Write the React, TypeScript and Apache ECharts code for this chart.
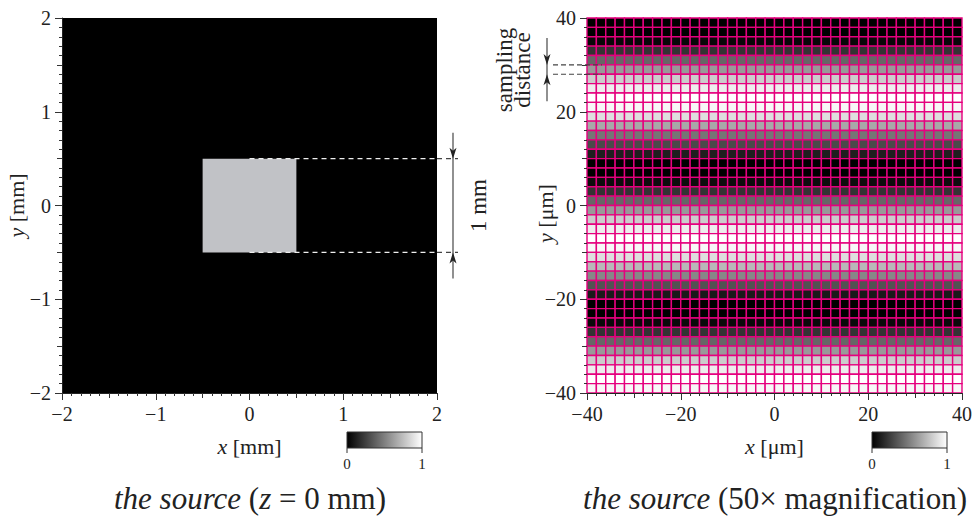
import React, { useEffect, useRef } from 'react';
import * as echarts from 'echarts';

// ---------- data (left: the source at z = 0 mm) ----------
const leftRange = [-2, 2]; // mm
const leftTickStep = 1;
const apertureX = [-0.5, 0.5]; // mm
const apertureY = [-0.5, 0.5]; // mm
const apertureLevel = 0.755;
const backgroundLevel = 0;
const apertureLabel = '1 mm';

// ---------- data (right: 50x magnification) ----------
const rightRange = [-40, 40]; // µm
const rightTickStep = 20;
const samplingDistance = 2; // µm
// normalized intensity of each sample row, top (y = 40 µm) to bottom (y = -40 µm)
const rowLevels = [
  0.0, 0.0, 0.03, 0.2, 0.4, 0.6, 0.8, 0.93, 1.0, 0.97,
  0.87, 0.66, 0.46, 0.29, 0.12, 0.0, 0.0, 0.05, 0.2, 0.4,
  0.6, 0.8, 0.93, 1.0, 0.97, 0.87, 0.72, 0.53, 0.32, 0.1,
  0.0, 0.0, 0.04, 0.2, 0.4, 0.6, 0.8, 0.93, 1.0, 0.97,
];
const samplingMarks = [30, 28]; // µm, the two dashed lines

const colorbarTicks = ['0', '1'];

const FONT = '"Liberation Serif", "Times New Roman", serif';
const INK = '#222';
const GRID_PINK = '#e5007e';

function gray(v: number) {
  const r = Math.round(255 * Math.max(0, Math.min(1, v)));
  return `rgb(${r},${r},${r})`;
}
function fmt(v: number) {
  return v < 0 ? '\u2212' + Math.abs(v) : String(v);
}

export default function App() {
  const ref = useRef<HTMLDivElement>(null);
  useEffect(() => {
    if (!ref.current) return;
    const chart = echarts.init(ref.current, null, { renderer: 'svg' });

    const leftData = [
      [leftRange[0], leftRange[1], leftRange[0], leftRange[1], backgroundLevel],
      [apertureX[0], apertureX[1], apertureY[0], apertureY[1], apertureLevel],
    ];
    const rightData: number[][] = [];
    const nCols = Math.round((rightRange[1] - rightRange[0]) / samplingDistance);
    rowLevels.forEach((v, k) => {
      const yTop = rightRange[1] - samplingDistance * k;
      for (let c = 0; c < nCols; c++) {
        const x0 = rightRange[0] + samplingDistance * c;
        rightData.push([x0, x0 + samplingDistance, yTop - samplingDistance, yTop, v]);
      }
    });

    const renderRect = (stroke: string | null, lw: number, tint: boolean) => (params: any, api: any) => {
      const p0 = api.coord([api.value(0), api.value(3)]);
      const p1 = api.coord([api.value(1), api.value(2)]);
      const v = api.value(4);
      let fill = gray(v);
      if (tint && v > 0) {
        const r = Math.round(255 * v);
        fill = `rgb(${r},${r + 1},${Math.min(255, r + 5)})`;
      }
      return {
        type: 'rect',
        shape: { x: p0[0], y: p0[1], width: p1[0] - p0[0], height: p1[1] - p0[1] },
        style: { fill, stroke: stroke || undefined, lineWidth: stroke ? lw : 0 },
      };
    };

    const labelStyle = { fontFamily: FONT, fontSize: 20, color: INK, formatter: fmt };
    const tickStyle = { color: '#333', width: 1 };

    const mainAxis = (grid: number, range: number[], step: number, isX: boolean, showLine: boolean) => ({
      gridIndex: grid,
      type: 'value',
      min: range[0],
      max: range[1],
      interval: step,
      z: 10,
      axisLine: { show: showLine, onZero: false, lineStyle: { color: '#222', width: 1 } },
      axisTick: { show: true, length: 7, lineStyle: tickStyle },
      minorTick: { show: true, splitNumber: 10, length: 3, lineStyle: tickStyle },
      axisLabel: { ...labelStyle, margin: isX ? 11 : 11 },
      splitLine: { show: false },
      minorSplitLine: { show: false },
      ...(isX ? { position: 'bottom' } : { position: 'left' }),
    });
    const midAxis = (grid: number, range: number[], step: number, isX: boolean) => ({
      gridIndex: grid,
      type: 'value',
      min: range[0],
      max: range[1],
      interval: step,
      z: 10,
      axisLine: { show: false, onZero: false },
      axisTick: { show: true, length: 5, lineStyle: tickStyle },
      axisLabel: { show: false },
      splitLine: { show: false },
      ...(isX ? { position: 'bottom' } : { position: 'left' }),
    });

    chart.setOption({
      animation: false,
      grid: [
        { left: 62, top: 18, width: 375, height: 375 },
        { left: 587, top: 18, width: 375, height: 375 },
      ],
      xAxis: [
        mainAxis(0, leftRange, leftTickStep, true, true),
        midAxis(0, leftRange, leftTickStep / 2, true),
        mainAxis(1, rightRange, rightTickStep, true, true),
        midAxis(1, rightRange, rightTickStep / 2, true),
      ],
      yAxis: [
        mainAxis(0, leftRange, leftTickStep, false, true),
        midAxis(0, leftRange, leftTickStep / 2, false),
        mainAxis(1, rightRange, rightTickStep, false, false),
        midAxis(1, rightRange, rightTickStep / 2, false),
      ],
      series: [
        {
          type: 'custom',
          xAxisIndex: 0,
          yAxisIndex: 0,
          data: leftData,
          encode: { x: [0, 1], y: [2, 3] },
          renderItem: renderRect(null, 0, true),
          silent: true,
        },
        {
          type: 'custom',
          xAxisIndex: 2,
          yAxisIndex: 2,
          data: rightData,
          encode: { x: [0, 1], y: [2, 3] },
          renderItem: renderRect(GRID_PINK, 1.4, false),
          silent: true,
        },
      ],
    });

    const L = (x: number, y: number) => chart.convertToPixel({ xAxisIndex: 0, yAxisIndex: 0 }, [x, y]) as number[];
    const R = (x: number, y: number) => chart.convertToPixel({ xAxisIndex: 2, yAxisIndex: 2 }, [x, y]) as number[];

    const g: any[] = [];
    const arrowDown = (x: number, tip: number) => ({
      type: 'polygon',
      shape: { points: [[x, tip], [x - 3.5, tip - 11], [x, tip - 8], [x + 3.5, tip - 11]] },
      style: { fill: '#222' },
    });
    const arrowUp = (x: number, tip: number) => ({
      type: 'polygon',
      shape: { points: [[x, tip], [x - 3.5, tip + 11], [x, tip + 8], [x + 3.5, tip + 11]] },
      style: { fill: '#222' },
    });

    // left: aperture size annotation
    const aTop = L(0, apertureY[1]);
    const aBot = L(0, apertureY[0]);
    const plotRightL = L(leftRange[1], 0)[0];
    const annX = plotRightL + 16;
    [aTop[1], aBot[1]].forEach((py) => {
      g.push({ type: 'line', shape: { x1: aTop[0], y1: py, x2: plotRightL, y2: py }, style: { stroke: '#eee', lineWidth: 1.1, lineDash: [5, 4] }, z: 20 });
      g.push({ type: 'line', shape: { x1: plotRightL, y1: py, x2: annX + 5, y2: py }, style: { stroke: '#444', lineWidth: 1.1, lineDash: [5, 4] }, z: 20 });
    });
    g.push({ type: 'line', shape: { x1: annX, y1: aTop[1] - 26, x2: annX, y2: aBot[1] + 26 }, style: { stroke: '#555', lineWidth: 1.3 }, z: 20 });
    g.push({ ...arrowDown(annX, aTop[1]), z: 21 });
    g.push({ ...arrowUp(annX, aBot[1]), z: 21 });
    g.push({
      type: 'text', x: annX + 25, y: (aTop[1] + aBot[1]) / 2, rotation: Math.PI / 2, z: 21,
      style: { text: apertureLabel, fontFamily: FONT, fontSize: 23, fill: INK, align: 'center', verticalAlign: 'middle' },
    });

    // right: sampling distance annotation
    const s0 = R(rightRange[0], samplingMarks[0]);
    const s1 = R(rightRange[0], samplingMarks[1]);
    const dashEnd = R(rightRange[0] + 1.6 * samplingDistance, 0)[0];
    const sx = s0[0] - 40;
    [s0[1], s1[1]].forEach((py) => {
      g.push({ type: 'line', shape: { x1: sx + 6, y1: py, x2: dashEnd, y2: py }, style: { stroke: '#444', lineWidth: 1.1, lineDash: [5, 3] }, z: 20 });
    });
    g.push({ type: 'line', shape: { x1: sx, y1: s0[1] - 27, x2: sx, y2: s1[1] + 27 }, style: { stroke: '#555', lineWidth: 1.3 }, z: 20 });
    g.push({ ...arrowDown(sx, s0[1]), z: 21 });
    g.push({ ...arrowUp(sx, s1[1]), z: 21 });
    g.push({
      type: 'text', x: 513, y: 70, rotation: Math.PI / 2, z: 21,
      style: { text: 'sampling\ndistance', fontFamily: FONT, fontSize: 23, lineHeight: 18, fill: INK, align: 'center', verticalAlign: 'middle' },
    });

    // axis names
    const axisName = (x: number, y: number, v: string, unit: string, rot: number) => ({
      type: 'text', x, y, rotation: rot, z: 21,
      style: {
        text: `{i|${v}} {n|[${unit}]}`,
        align: 'center', verticalAlign: 'middle',
        fontFamily: FONT, fontSize: 22, fill: INK,
        rich: {
          i: { fontFamily: FONT, fontSize: 22, fontStyle: 'italic', fill: INK },
          n: { fontFamily: FONT, fontSize: 22, fill: INK },
        },
      },
    });
    const cxL = L(0, 0);
    const cxR = R(0, 0);
    g.push(axisName(cxL[0], 446, 'x', 'mm', 0));
    g.push(axisName(16, cxL[1], 'y', 'mm', Math.PI / 2));
    g.push(axisName(cxR[0], 446, 'x', '\u03bcm', 0));
    g.push(axisName(545, cxR[1] + 8, 'y', '\u03bcm', Math.PI / 2));

    // colorbars
    const colorbar = (x0: number) => {
      const w = 75, y0 = 432, h = 16;
      g.push({
        type: 'rect', shape: { x: x0, y: y0, width: w, height: h }, z: 21,
        style: {
          fill: new echarts.graphic.LinearGradient(0, 0, 1, 0, [
            { offset: 0, color: '#000' },
            { offset: 1, color: '#fff' },
          ]),
          stroke: '#333', lineWidth: 1,
        },
      });
      [x0, x0 + w].forEach((tx, i) => {
        g.push({ type: 'line', shape: { x1: tx, y1: y0 + h, x2: tx, y2: y0 + h + 5 }, style: { stroke: '#333', lineWidth: 1 }, z: 21 });
        g.push({
          type: 'text', x: tx, y: y0 + h + 16, z: 21,
          style: { text: colorbarTicks[i], fontFamily: FONT, fontSize: 15, fill: INK, align: 'center', verticalAlign: 'middle' },
        });
      });
    };
    colorbar(347);
    colorbar(872);

    // panel titles
    const TS = 31;
    const title = (x: number, parts: string) => ({
      type: 'text', x, y: 498, z: 21,
      style: {
        text: parts, align: 'center', verticalAlign: 'middle',
        fontFamily: FONT, fontSize: TS, fill: INK,
        rich: {
          i: { fontFamily: FONT, fontSize: TS, fontStyle: 'italic', fill: INK },
          n: { fontFamily: FONT, fontSize: TS, fill: INK },
        },
      },
    });
    g.push(title(250, '{i|the source} {n|(}{i|z}{n| = 0 mm)}'));
    g.push(title(775, '{i|the source} {n|(50\u00d7 magnification)}'));

    chart.setOption({ graphic: g });

    return () => chart.dispose();
  }, []);

  return (
    <div
      ref={ref}
      style={{ position: 'fixed', left: 0, top: 0, width: 976, height: 518, background: '#fff' }}
    />
  );
}
